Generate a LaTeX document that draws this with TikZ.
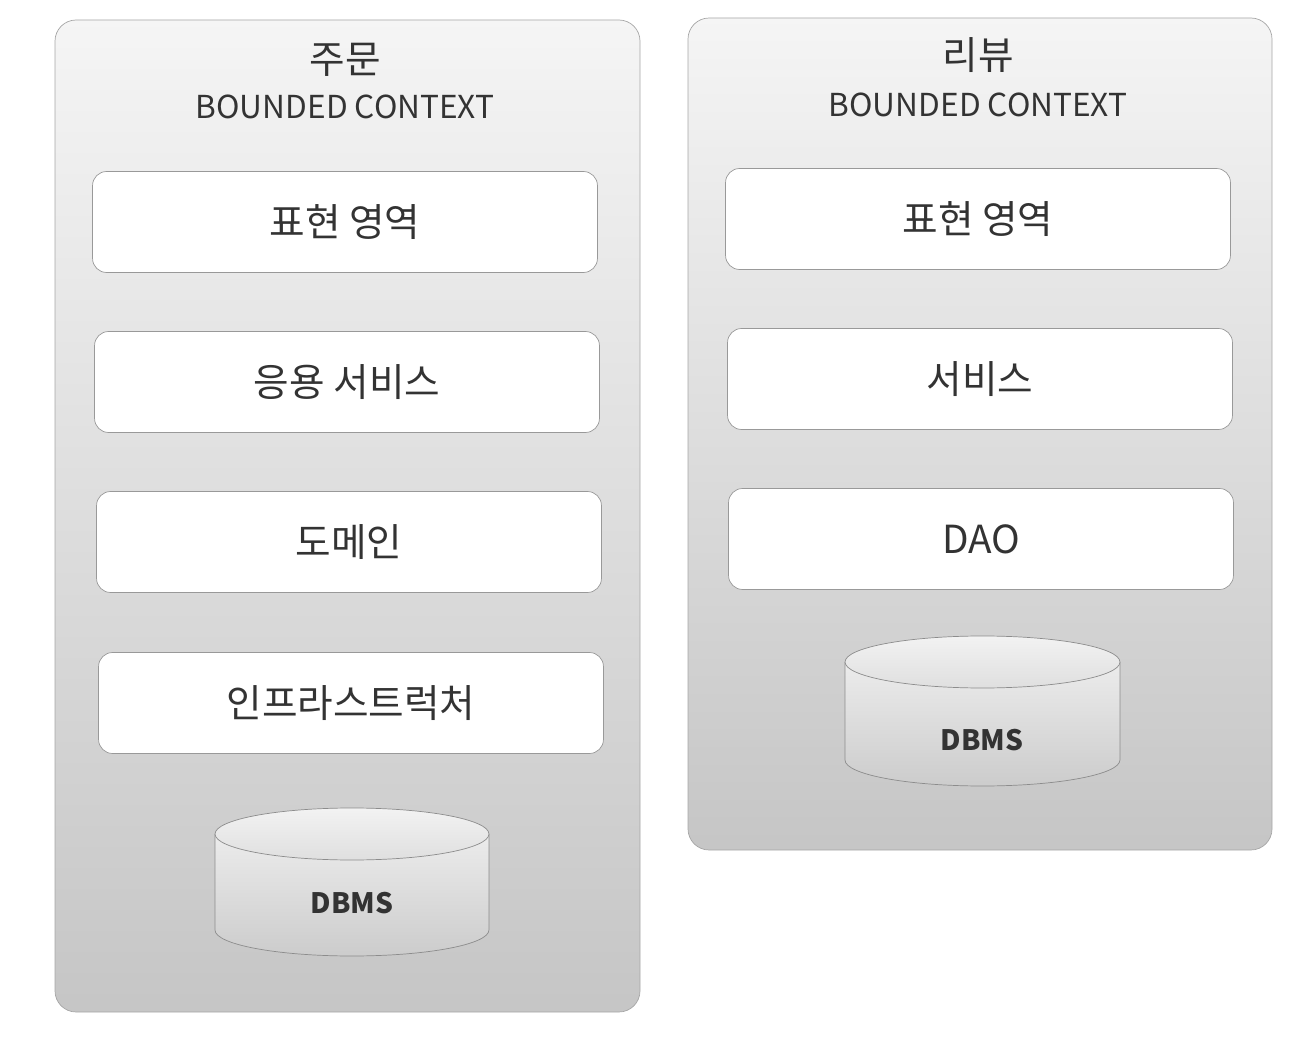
\documentclass[tikz,border=0pt]{standalone}
\usepackage{fontspec}
\setmainfont{Noto Sans CJK KR}
\usetikzlibrary{calc}
\begin{document}
\begin{tikzpicture}[x={(0.02cm,0)}, y={(0,-0.02cm)}]
	\tikzstyle{context}=[
	draw=gray!70,
	rounded corners=12pt,
	top color=gray!8,
	bottom color=gray!45
	]
	\tikzstyle{layer}=[
	draw=gray!80,
	fill=white,
	rounded corners=8pt,
	minimum width=10.1cm,
	minimum height=2.02cm,
	font=\fontsize{22}{26}\selectfont,
	text=black!80
	]
	\tikzstyle{title}=[
	font=\fontsize{22}{26}\selectfont,
	text=black!80
	]
	\tikzstyle{db}=[
	draw=gray!90,
	top color=gray!15,
	bottom color=gray!40
	]
	\useasboundingbox (0,0) rectangle (1295,1043);
	% left context
	\draw[context] (55,20) rectangle (640,1012);
	\node[title] (ORDER) at (345,60) {주문};
	\node[title, font=\fontsize{18}{22}\selectfont] (ORDERBC) at (345,107) {BOUNDED CONTEXT};
	\node[layer] (OUI) at (345,222) {표현 영역};
	\node[layer] (OAPP) at (347,382) {응용 서비스};
	\node[layer] (ODOM) at (349,542) {도메인};
	\node[layer] (OINF) at (351,703) {인프라스트럭처};
	\draw[db] (215,834) -- (215,930) arc (180:360:2.74cm and 0.52cm) -- (489,834);
	\draw[db, top color=gray!10, bottom color=gray!25] (352,834) ellipse (2.74cm and 0.52cm);
	\node[font=\fontsize{16}{20}\selectfont\bfseries, text=black!80] (ODB) at (352,903) {DBMS};
	% right context
	\draw[context] (688,18) rectangle (1272,850);
	\node[title] (REVIEW) at (978,55) {리뷰};
	\node[title, font=\fontsize{18}{22}\selectfont] (REVIEWBC) at (978,105) {BOUNDED CONTEXT};
	\node[layer] (RUI) at (978,219) {표현 영역};
	\node[layer] (RSVC) at (980,379) {서비스};
	\node[layer] (RDAO) at (981,539) {DAO};
	\draw[db] (845,662) -- (845,760) arc (180:360:2.75cm and 0.52cm) -- (1120,662);
	\draw[db, top color=gray!10, bottom color=gray!25] (982.5,662) ellipse (2.75cm and 0.52cm);
	\node[font=\fontsize{16}{20}\selectfont\bfseries, text=black!80] (RDB) at (982,740) {DBMS};
\end{tikzpicture}
\end{document}
